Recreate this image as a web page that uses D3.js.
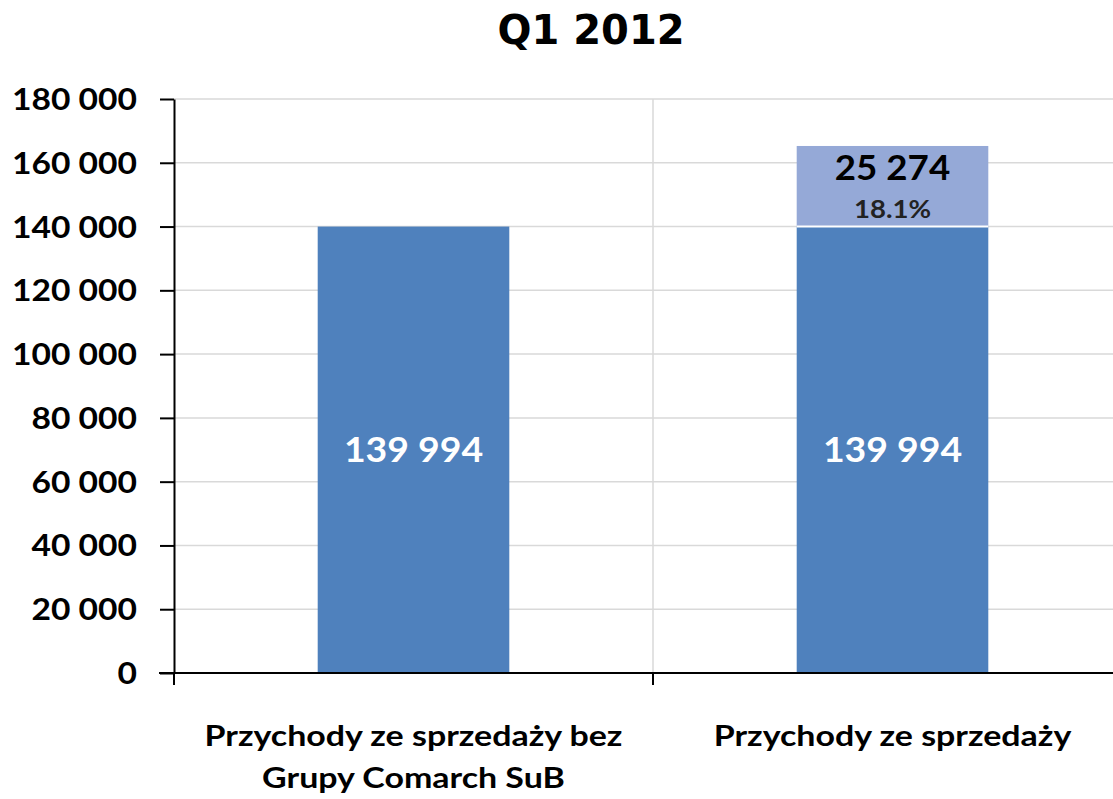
<!DOCTYPE html>
<html><head><meta charset="utf-8">
<script src="https://cdn.jsdelivr.net/npm/d3@7"></script>
<style>body{margin:0;background:#fff}svg{display:block}</style>
</head><body>
<script>
const categories = ["Przychody ze sprzedaży bez|Grupy Comarch SuB", "Przychody ze sprzedaży"];
const baseValues = [139994, 139994];
const extraValues = [0, 25274];
const extraPercent = ["", "18.1%"];
const yTicks = [0, 20000, 40000, 60000, 80000, 100000, 120000, 140000, 160000, 180000];
const title = "Q1 2012";

const W = 1113, H = 799;
const svg = d3.select("body").append("svg").attr("width", W).attr("height", H);
const mLeft = 174, mRight = 1132, mTop = 99, mBottom = 673;
const x = d3.scaleBand().domain(categories).range([mLeft, mRight]).padding(0);
const y = d3.scaleLinear().domain([0, 180000]).range([mBottom, mTop]);
const loc = d3.formatLocale({decimal: ".", thousands: " ", grouping: [3], currency: ["", ""]});
const fmt = loc.format(",d");
const lab = "Lato, 'Open Sans', sans-serif";

function label(g, tx, ty, sx, size, fill, txt) {
  return g.append("text").attr("transform", `translate(${tx},${ty}) scale(${sx},1)`)
    .attr("text-anchor", "middle").attr("font-family", lab).attr("font-weight", "bold")
    .attr("font-size", size).attr("fill", fill).text(txt);
}

// gridlines
svg.append("g").selectAll("line").data(yTicks.filter(d => d > 0)).join("line")
  .attr("x1", mLeft).attr("x2", W).attr("y1", d => y(d)).attr("y2", d => y(d))
  .attr("stroke", "#d9d9d9").attr("stroke-width", 1.5);
svg.append("line").attr("x1", x(categories[1])).attr("x2", x(categories[1]))
  .attr("y1", mTop).attr("y2", mBottom).attr("stroke", "#d9d9d9").attr("stroke-width", 1.5);

// bars
const bw = x.bandwidth() * 0.4;
const bx = d => x(d) + (x.bandwidth() - bw) / 2;
svg.append("g").selectAll("rect").data(categories).join("rect")
  .attr("x", d => bx(d)).attr("width", bw)
  .attr("y", (d, i) => y(baseValues[i])).attr("height", (d, i) => y(0) - y(baseValues[i]))
  .attr("fill", "#4f81bd");
const stacked = categories.filter((d, i) => extraValues[i] > 0);
svg.append("g").selectAll("rect").data(stacked).join("rect")
  .attr("x", d => bx(d)).attr("width", bw)
  .attr("y", d => { const i = categories.indexOf(d); return y(baseValues[i] + extraValues[i]); })
  .attr("height", d => { const i = categories.indexOf(d); return y(baseValues[i]) - y(baseValues[i] + extraValues[i]); })
  .attr("fill", "#95a9d7");
svg.append("g").selectAll("line").data(stacked).join("line")
  .attr("x1", d => bx(d)).attr("x2", d => bx(d) + bw)
  .attr("y1", d => y(baseValues[categories.indexOf(d)])).attr("y2", d => y(baseValues[categories.indexOf(d)]))
  .attr("stroke", "#fff").attr("stroke-width", 2);

// value labels
const vl = svg.append("g");
categories.forEach((d, i) => {
  const cx = x(d) + x.bandwidth() / 2;
  label(vl, cx, y(baseValues[i] / 2) + 12, 1.1, 34, "#fff", fmt(baseValues[i]));
  if (extraValues[i] > 0) {
    label(vl, cx, y(baseValues[i] + extraValues[i]) + 34, 1.08, 34, "#000", fmt(extraValues[i]));
    label(vl, cx, y(baseValues[i]) - 9, 1.15, 24, "#222", extraPercent[i]);
  }
});

// y axis
const sxT = 1.12;
const ya = svg.append("g").attr("transform", `translate(${mLeft},0)`)
  .call(d3.axisLeft(y).tickValues(yTicks).tickFormat(fmt).tickSize(14).tickSizeOuter(0));
ya.select(".domain").attr("stroke", "#000").attr("stroke-width", 2);
ya.selectAll(".tick line").attr("stroke", "#000").attr("stroke-width", 2);
ya.selectAll(".tick text").attr("font-family", lab).attr("font-weight", "bold")
  .attr("font-size", 30).attr("fill", "#000").attr("x", -37 / sxT).attr("dy", "0.35em")
  .attr("transform", `scale(${sxT},1)`);

// x axis
svg.append("line").attr("x1", 159).attr("x2", W).attr("y1", mBottom).attr("y2", mBottom)
  .attr("stroke", "#000").attr("stroke-width", 2);
svg.append("g").selectAll("line").data(categories).join("line")
  .attr("x1", d => x(d)).attr("x2", d => x(d)).attr("y1", mBottom).attr("y2", mBottom + 12)
  .attr("stroke", "#000").attr("stroke-width", 2);
const xl = svg.append("g");
categories.forEach(d => {
  const cx = x(d) + x.bandwidth() / 2;
  d.split("|").forEach((p, k) => label(xl, cx, 746 + k * 42, 1.17, 29, "#000", p));
});

// title
svg.append("text").attr("x", 591).attr("y", 44).attr("text-anchor", "middle")
  .attr("font-family", "'DejaVu Sans', Verdana, sans-serif").attr("font-weight", "bold")
  .attr("font-size", 40).attr("fill", "#000").text(title);
</script>
</body></html>
